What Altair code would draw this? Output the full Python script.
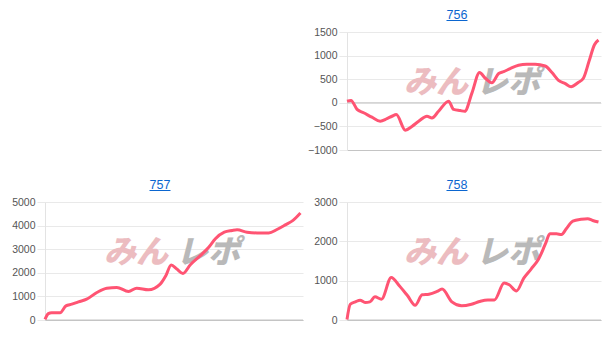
import altair as alt
import pandas as pd

# ---- data (x = progress along the session, 0-100) ----
x756 = [0, 1.6, 4.0, 6.6, 9.9, 13.2, 15.9, 17.9, 19.6, 23.2, 25.8, 28.5, 31.8, 33.8,
        36.4, 40.4, 42.4, 45.0, 46.8, 49.7, 52.7, 55.0, 57.6, 60.3, 62.3, 64.9, 68.2,
        71.5, 74.8, 78.8, 81.5, 84.1, 86.8, 89.1, 91.8, 94.0, 96.3, 98.4, 100]
y756 = [35, 50, -140, -210, -305, -390, -335, -285, -250, -580, -500, -390, -285, -320,
        -180, 35, -140, -165, -180, 210, 640, 520, 425, 620, 660, 725, 795,
        815, 815, 780, 640, 475, 405, 340, 425, 520, 890, 1230, 1330]

x757 = [0, 1.3, 2.6, 5.9, 8.2, 10.5, 13.1, 16.3, 20.3, 24.2, 28.1, 32.7, 35.9, 40.5,
        45.1, 47.3, 49.4, 51.6, 54.0, 56.9, 60.8, 64.1, 66.7, 70.2, 73.2, 75.2, 79.1,
        83.0, 87.6, 90.8, 94.1, 97.1, 100]
y757 = [30, 270, 310, 310, 600, 670, 770, 880, 1165, 1350, 1380, 1210, 1350, 1280,
        1520, 1875, 2330, 2160, 1975, 2345, 2730, 3080, 3440, 3720, 3790, 3820, 3720,
        3690, 3690, 3835, 4030, 4220, 4530]

x758 = [0, 1.3, 3.3, 5.2, 7.2, 9.1, 11.1, 13.7, 17.6, 20.8, 24.1, 27.1, 29.9, 32.6,
        35.8, 37.8, 41.7, 45.6, 49.5, 52.7, 56.0, 58.6, 62.5, 64.5, 67.4, 70.3, 73.2,
        76.2, 78.8, 80.7, 83.3, 85.3, 87.2, 89.8, 93.1, 95.7, 97.7, 100]
y758 = [15, 400, 460, 505, 445, 460, 590, 530, 1080, 870, 615, 375, 640, 655,
        725, 785, 460, 360, 400, 470, 510, 510, 940, 895, 740, 1065, 1295,
        1550, 1920, 2190, 2190, 2175, 2320, 2515, 2560, 2575, 2530, 2490]

ticks756 = [-1000, -500, 0, 500, 1000, 1500]
ticks757 = [0, 1000, 2000, 3000, 4000, 5000]
ticks758 = [0, 1000, 2000, 3000]

LINE = "#ff5473"
LINK = "#0b66d0"
FONT = "Liberation Sans"


def panel(title, xs, ys, ticks, w, h, tshift):
    df = pd.DataFrame({"x": xs, "y": ys})
    xsc = alt.Scale(domain=[0, 101], nice=False)
    ysc = alt.Scale(domain=[ticks[0], ticks[-1]], nice=False, zero=False)
    yaxis = alt.Axis(values=ticks, title=None, format="d", labelOverlap=False,
                     gridColor="#e9e9e9", tickColor="#e9e9e9", tickSize=8,
                     domainColor="#e3e3e3", labelPadding=2, labelBound=False,
                     labelColor="#555555", labelFontSize=10.5, labelFont=FONT)
    xaxis = alt.Axis(labels=False, ticks=False, grid=False, title=None,
                     domainColor="#c4c4c4", domainWidth=1)
    line = alt.Chart(df).mark_line(color=LINE, strokeWidth=3, interpolate="monotone").encode(
        x=alt.X("x:Q", scale=xsc, axis=xaxis),
        y=alt.Y("y:Q", scale=ysc, axis=yaxis),
    )
    zero = alt.Chart(pd.DataFrame({"y": [0]})).mark_rule(color="#c4c4c4", strokeWidth=1).encode(
        y=alt.Y("y:Q", scale=ysc, axis=yaxis)
    )
    wm1 = alt.Chart(pd.DataFrame({"t": ["みん"]})).mark_text(
        text="みん", font="Noto Sans CJK JP", fontSize=32, fontWeight=900, fontStyle="italic",
        color="#ecbcc0", align="right", baseline="middle"
    ).encode(x=alt.value(w / 2 - 6), y=alt.value(h / 2 - 8))
    wm2 = alt.Chart(pd.DataFrame({"t": ["レポ"]})).mark_text(
        text="レポ", font="Noto Sans CJK JP", fontSize=32, fontWeight=900, fontStyle="italic",
        color="#b9b9b9", align="left", baseline="middle"
    ).encode(x=alt.value(w / 2 + 2), y=alt.value(h / 2 - 8))
    ttl = alt.Chart(pd.DataFrame({"t": [title]})).mark_text(
        text=title, font=FONT, fontSize=12.5, color=LINK, align="center", baseline="middle"
    ).encode(x=alt.value(w / 2 - tshift), y=alt.value(-17.5))
    underline = alt.Chart(pd.DataFrame({"u": [0]})).mark_rule(color=LINK, strokeWidth=1).encode(
        x=alt.value(w / 2 - tshift - 10.5), x2=alt.value(w / 2 - tshift + 10.5), y=alt.value(-11.5)
    )
    return alt.layer(wm1, wm2, zero, line, ttl, underline).properties(width=w, height=h)


blank = alt.Chart(pd.DataFrame({"a": [0]})).mark_point(opacity=0).encode(
    x=alt.X("a:Q", axis=None), y=alt.Y("a:Q", axis=None)
).properties(width=200, height=100)

c756 = panel("756", x756, y756, ticks756, 254, 118, 17)
c757 = panel("757", x757, y757, ticks757, 258, 118, 14)
c758 = panel("758", x758, y758, ticks758, 254, 118, 17)

chart = alt.concat(
    blank, c756, c757, c758, columns=2,
    spacing={"row": 22, "column": 0},
).properties(
    padding={"left": 11, "top": 8, "right": 0, "bottom": 0},
    background="white",
).configure_view(stroke=None)

chart.save("out.html", embed_options={"renderer": "svg", "actions": False})
